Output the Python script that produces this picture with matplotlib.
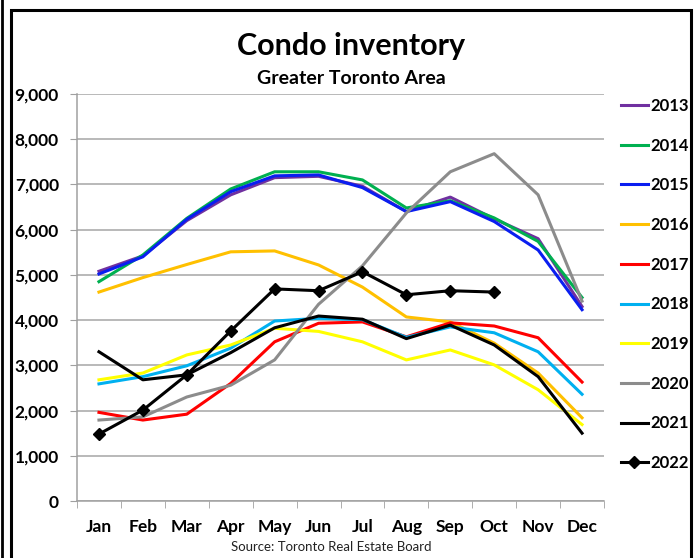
import numpy as np
import matplotlib
matplotlib.use('Agg')
import matplotlib.pyplot as plt
from matplotlib.patches import Rectangle
from matplotlib.lines import Line2D

plt.rcParams['font.family'] = ['Lato', 'DejaVu Sans']

# Data
months = ['Jan', 'Feb', 'Mar', 'Apr', 'May', 'Jun',
          'Jul', 'Aug', 'Sep', 'Oct', 'Nov', 'Dec']
y2013 = [5080, 5420, 6200, 6770, 7150, 7180, 6960, 6400, 6720, 6240, 5800, 4300]
y2014 = [4850, 5440, 6250, 6900, 7280, 7280, 7100, 6480, 6640, 6260, 5740, 4500]
y2015 = [5020, 5400, 6230, 6840, 7190, 7210, 6930, 6400, 6620, 6180, 5550, 4230]
y2016 = [4620, 4940, 5230, 5510, 5530, 5220, 4730, 4070, 3960, 3490, 2830, 1840]
y2017 = [1960, 1790, 1920, 2600, 3520, 3930, 3960, 3630, 3940, 3870, 3610, 2630]
y2018 = [2590, 2750, 2990, 3380, 3980, 4040, 4010, 3620, 3850, 3720, 3300, 2360]
y2019 = [2680, 2830, 3230, 3450, 3820, 3750, 3520, 3120, 3340, 3010, 2460, 1690]
y2020 = [1790, 1860, 2300, 2560, 3120, 4350, 5200, 6370, 7280, 7680, 6770, 4420]
y2021 = [3300, 2680, 2790, 3280, 3830, 4090, 4020, 3590, 3890, 3450, 2750, 1500]
y2022 = [1480, 2010, 2790, 3760, 4690, 4650, 5070, 4560, 4650, 4620]

years = ['2013', '2014', '2015', '2016', '2017',
         '2018', '2019', '2020', '2021', '2022']
series = [y2013, y2014, y2015, y2016, y2017, y2018, y2019, y2020, y2021, y2022]
colors = ['#7030A0', '#00B050', '#0A1EF0', '#FFC000', '#FF0000',
          '#00B0F0', '#FFFF00', '#8C8C8C', '#000000', '#000000']

fig = plt.figure(figsize=(6.94, 5.58), dpi=100)
ax = fig.add_axes([77/694, 1 - 501/558, 527/694, 407/558])

x = np.arange(len(months))
handles = []
for yr, vals, c in zip(years, series, colors):
    if yr == '2022':
        h, = ax.plot(x[:len(vals)], vals, color=c, linewidth=2.2,
                     marker='D', markersize=6.5, label=yr, zorder=5)
    else:
        h, = ax.plot(x[:len(vals)], vals, color=c, linewidth=2.2,
                     label=yr, zorder=3)
    handles.append(h)

ax.set_xlim(-0.5, 11.5)
ax.set_ylim(0, 9000)
ax.set_yticks(np.arange(0, 9001, 1000))
ax.set_yticklabels([f'{v:,}' for v in range(0, 9001, 1000)],
                   fontsize=12.5, fontweight='bold')
ax.set_xticks(x)
ax.set_xticklabels(months, fontsize=12.5, fontweight='bold')
ax.set_xticks(np.arange(-0.5, 12, 1), minor=True)
ax.tick_params(axis='x', which='major', length=0, pad=13)
ax.tick_params(axis='x', which='minor', length=5, color='#A0A0A0',
               direction='out')
ax.tick_params(axis='y', length=5, color='#A0A0A0', direction='out', pad=8)
ax.grid(axis='y', color='#A6A6A6', linewidth=1.1)
ax.set_axisbelow(True)
for s in ['top', 'right']:
    ax.spines[s].set_visible(False)
for s in ['left', 'bottom']:
    ax.spines[s].set_color('#A0A0A0')
    ax.spines[s].set_linewidth(1.1)

fig.text(351/694, 1 - 46/558, 'Condo inventory', ha='center', va='center',
         fontsize=22, fontweight='bold')
fig.text(351/694, 1 - 78/558, 'Greater Toronto Area', ha='center',
         va='center', fontsize=14, fontweight='bold')
fig.text(331/694, 1 - 547/558, 'Source: Toronto Real Estate Board',
         ha='center', va='center', fontsize=9.5, color='#222222')

leg = fig.legend(handles=handles, loc='upper left',
                 bbox_to_anchor=(606/694, 1 - 83/558), frameon=False,
                 handlelength=1.6, handletextpad=0.15, labelspacing=1.42,
                 prop={'weight': 'bold', 'size': 12})

# outer frame
fig.add_artist(Rectangle((11/694, -0.05), 680/694, 1.05 - 10/558,
                         transform=fig.transFigure, fill=False,
                         edgecolor='black', linewidth=2.2))
fig.add_artist(Line2D([2/694, 2/694], [0, 1], transform=fig.transFigure,
                      color='black', linewidth=2))

fig.savefig('out.png', dpi=100)
